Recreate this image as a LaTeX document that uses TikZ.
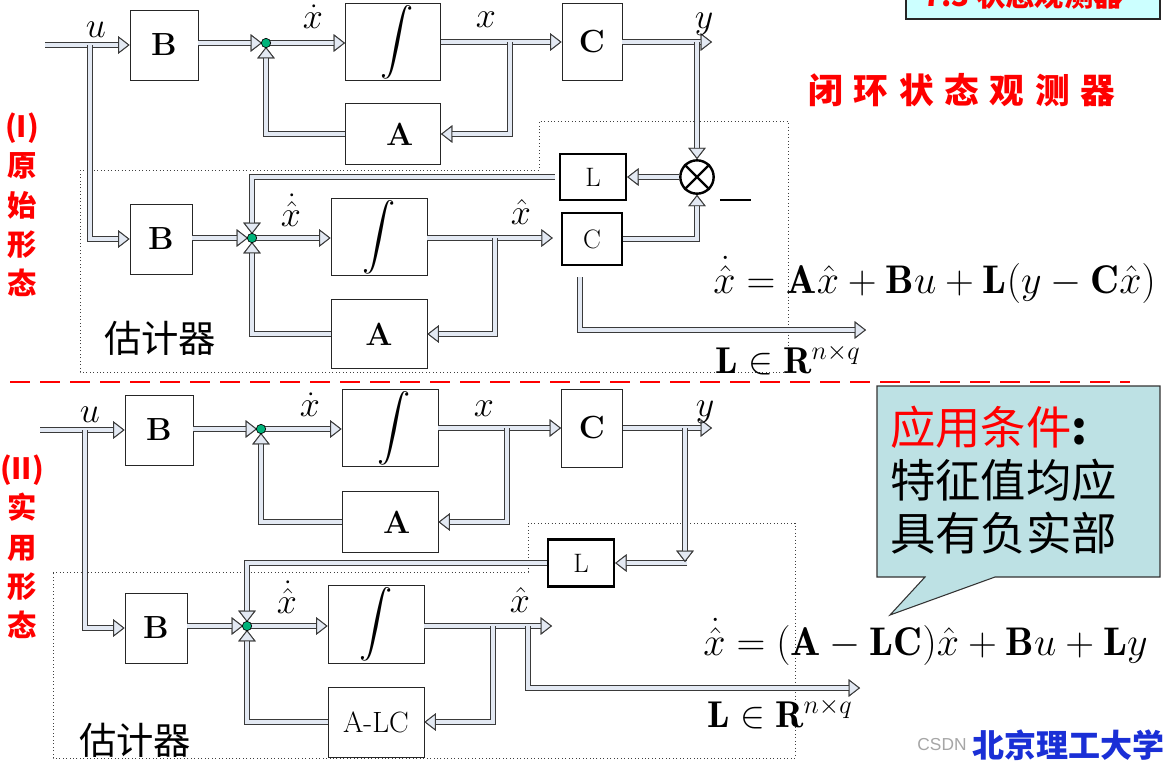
\RequirePackage{fix-cm}
\documentclass[tikz,border=0pt]{standalone}
\usepackage{amsmath}
\usepackage{exscale}
\usepackage{fontspec}
\newfontfamily\cjk{Noto Sans CJK SC}
\newfontfamily\arial{Liberation Sans}
\usetikzlibrary{arrows.meta}
\definecolor{pipefill}{HTML}{E3E9F3}
\definecolor{edgecol}{HTML}{3A3A3A}
\definecolor{jgreen}{HTML}{00B37A}
\definecolor{callfill}{HTML}{BDE1E4}
\definecolor{titlefill}{HTML}{CCFFFF}
\definecolor{logoblue}{HTML}{1A2FD6}
\newcommand{\myfs}[1]{\fontsize{#1}{#1}\selectfont}
\tikzset{
 pipe/.style={line width=3.2pt, draw=pipefill, preaction={draw=edgecol, line width=4.8pt}},
 arr/.style={-{Triangle[length=8.5pt,width=13pt,line width=0.7pt,color=edgecol,fill=pipefill]}},
 blk/.style={draw=black!85, line width=0.7pt, fill=white, inner sep=0pt},
 tblk/.style={draw=black, line width=1.8pt, fill=white, inner sep=0pt},
 sz/.style 2 args={minimum width=#1*0.75pt, minimum height=#2*0.75pt},
 bl/.style={font=\myfs{24}\bfseries},
 rl/.style={font=\myfs{20}},
 intg/.style={font=\myfs{27}},
 lab/.style={font=\myfs{27}, inner sep=0pt},
 eq/.style={font=\myfs{30}, inner sep=0pt},
 eqs/.style={font=\myfs{28}, inner sep=0pt},
 est/.style={draw=black!75, dotted, line width=0.6pt},
 dot/.style={circle, draw=black, line width=0.5pt, fill=jgreen, minimum size=7pt, inner sep=0pt},
 cjklab/.style={font=\cjk\myfs{28}, inner sep=0pt},
 sidelab/.style={font=\cjk\bfseries\fontsize{22}{29.5}\selectfont, text=red, align=center, inner sep=0pt},
}
\begin{document}
\begin{tikzpicture}[x=0.75pt,y=-0.75pt]
\useasboundingbox (0,0) rectangle (1164,765);
\clip (0,0) rectangle (1164,765);
\fill[white] (0,0) rectangle (1164,765);

% ---------- title box ----------
\draw[fill=titlefill, line width=1.5pt, draw=black!85] (906,-25) rectangle (1160,19);
\node[font=\cjk\bfseries\myfs{22}, text=red] (title) at (1023,-5) {7.3 状态观测器};

% ---------- (I) labels ----------
\node[sidelab] (side1) at (22,205) {(I)\\原\\始\\形\\态};
\node[font=\cjk\bfseries\myfs{26}, text=red, inner sep=0pt] (head1) at (962,90)
  {闭\hspace{8pt}环\hspace{8pt}状\hspace{8pt}态\hspace{8pt}观\hspace{8pt}测\hspace{8pt}器};

% estimator dotted frame (I)
\draw[est] (80,170) -- (539,170) -- (539,121) -- (788,121) -- (788,372) -- (80,372) -- cycle;

% ---------- nodes (I) ----------
\node[blk, sz={68}{70}, bl] (B1) at (164,45) {B};
\node[blk, sz={95}{77}, intg] (I1) at (393,42) {\hspace{6pt}$\displaystyle\int$};
\node[blk, sz={60}{77}, bl] (C1) at (592,42) {C};
\node[blk, sz={95}{61}, bl] (A1) at (393,134) {\hspace{10pt}A};
\node[tblk, sz={66}{46}, rl] (L1) at (593,177) {L};
\node[circle, draw=black, line width=1.8pt, fill=white, minimum size=25pt, inner sep=0pt] (X1) at (697,177) {};
\draw[line width=1.8pt] (X1.north west) -- (X1.south east) (X1.north east) -- (X1.south west);
\node[blk, sz={62}{70}, bl] (B2) at (161,239) {B};
\node[blk, sz={96}{77}, intg] (I2) at (379,237) {$\displaystyle\int$};
\node[tblk, sz={60}{52}, rl] (C2) at (592,239) {C};
\node[blk, sz={96}{69}, bl] (A2) at (379,334) {A};

\coordinate (U1) at (45,45);
\coordinate (J1) at (266,43);
\coordinate (T1) at (510,42);
\coordinate (Y1) at (712,42);
\coordinate (T2) at (697,42);
\coordinate (T3) at (90,45);
\coordinate (J2) at (252,238);
\coordinate (T4) at (495,238);
\coordinate (S1) at (580,277);
\coordinate (E1) at (866,330);

% ---------- pipes (I) ----------
\draw[pipe,arr] (U1) -- (B1.west);
\draw[pipe,arr,shorten >=3pt] (B1.east |- J1) -- (J1);
\draw[pipe,arr,shorten <=3pt] (J1) -- (I1.west |- J1);
\draw[pipe,arr] (I1.east) -- (C1.west);
\draw[pipe,arr] (T1) |- (A1.east);
\draw[pipe,arr,shorten >=3pt] (A1.west) -| (J1);
\draw[pipe,arr] (C1.east) -- (Y1);
\draw[pipe,arr] (T2) -- (X1.north);
\draw[pipe,arr] (X1.west) -- (L1.east);
\draw[pipe,arr,shorten >=3pt] ([xshift=-3pt]L1.west) -| (J2);
\draw[pipe,arr] (T3) |- (B2.west);
\draw[pipe,arr,shorten >=3pt] (B2.east |- J2) -- (J2);
\draw[pipe,arr,shorten <=3pt] (J2) -- (I2.west |- J2);
\draw[pipe,arr] (I2.east |- J2) -- ([xshift=-6pt]C2.west |- J2);
\draw[pipe,arr] (T4) |- (A2.east);
\draw[pipe,arr,shorten >=3pt] (A2.west) -| (J2);
\draw[pipe,arr] (C2.east) -| (X1.south);
\draw[pipe,arr] (S1) |- (E1);
\node[dot] (j1) at (J1) {};
\node[dot] (j2) at (J2) {};
\draw[line width=2.2pt] (720,200) -- (751,200);

% labels (I)
\node[lab] (lu1) at (96,30) {$u$};
\node[lab] (lxd1) at (313,17) {$\dot{x}$};
\node[lab] (lx1) at (486,20) {$x$};
\node[lab] (ly1) at (704,24) {$y$};
\node[lab] (lxhd1) at (291,210) {$\dot{\hat{x}}$};
\node[lab] (lxh1) at (521,212) {$\hat{x}$};
\node[cjklab] (est1) at (160,338) {估计器};
\node[eq, anchor=base west] (eq1) at (713,293) {$\dot{\hat{x}}=\mathbf{A}\hat{x}+\mathbf{B}u+\mathbf{L}(y-\mathbf{C}\hat{x})$};
\node[eqs, anchor=base west] (ls1) at (715,373) {$\mathbf{L}\in\mathbf{R}^{n\times q}$};

% ---------- red dashed separator ----------
\draw[red, line width=2.2pt, dash pattern=on 15pt off 7.5pt] (10,382) -- (1130,382);

% ---------- (II) ----------
\node[sidelab] (side2) at (22,547) {(II)\\实\\用\\形\\态};
\draw[est] (53,572) -- (528,572) -- (528,523) -- (795,523) -- (795,758) -- (53,758) -- cycle;

\node[blk, sz={68}{70}, bl] (B3) at (159,430) {B};
\node[blk, sz={96}{77}, intg] (I3) at (390,428) {\hspace{6pt}$\displaystyle\int$};
\node[blk, sz={61}{78}, bl] (C3) at (592,428) {C};
\node[blk, sz={96}{61}, bl] (A3) at (390,522) {\hspace{10pt}A};
\node[tblk, sz={66}{47}, rl] (L3) at (581,563) {L};
\node[blk, sz={62}{70}, bl] (B4) at (156,628) {B};
\node[blk, sz={96}{78}, intg] (I4) at (376,624) {$\displaystyle\int$};
\node[blk, sz={96}{70}, font=\myfs{22}] (ALC) at (376,722) {A-LC};

\coordinate (U2) at (40,430);
\coordinate (J3) at (261,429);
\coordinate (T5) at (507,428);
\coordinate (Y2) at (712,428);
\coordinate (T6) at (685,428);
\coordinate (D1) at (685,562);
\coordinate (D2) at (687,563);
\coordinate (T7) at (85,430);
\coordinate (J4) at (247,626);
\coordinate (X4) at (552,626);
\coordinate (T8) at (493,626);
\coordinate (T9) at (528,626);
\coordinate (E2) at (860,688);

\draw[pipe,arr] (U2) -- (B3.west);
\draw[pipe,arr,shorten >=3pt] (B3.east |- J3) -- (J3);
\draw[pipe,arr,shorten <=3pt] (J3) -- (I3.west |- J3);
\draw[pipe,arr] (I3.east) -- (C3.west);
\draw[pipe,arr] (T5) |- (A3.east);
\draw[pipe,arr,shorten >=3pt] (A3.west) -| (J3);
\draw[pipe,arr] (C3.east) -- (Y2);
\draw[pipe,arr] (D2) -- (L3.east);
\draw[pipe,arr] (T6) -- (D1);
\draw[pipe,arr,shorten >=3pt] (L3.west) -| (J4);
\draw[pipe,arr] (T7) |- (B4.west);
\draw[pipe,arr,shorten >=3pt] (B4.east |- J4) -- (J4);
\draw[pipe,arr,shorten <=3pt] (J4) -- (I4.west |- J4);
\draw[pipe,arr] (I4.east |- J4) -- (X4);
\draw[pipe,arr] (T8) |- (ALC.east);
\draw[pipe,arr,shorten >=3pt] (ALC.west) -| (J4);
\draw[pipe,arr] (T9) |- (E2);
\node[dot] (j3) at (J3) {};
\node[dot] (j4) at (J4) {};

% labels (II)
\node[lab] (lu2) at (90,415) {$u$};
\node[lab] (lxd2) at (310,405) {$\dot{x}$};
\node[lab] (lx2) at (484,409) {$x$};
\node[lab] (ly2) at (705,412) {$y$};
\node[lab] (lxhd2) at (287,597) {$\dot{\hat{x}}$};
\node[lab] (lxh2) at (520,600) {$\hat{x}$};
\node[cjklab] (est2) at (135,740) {估计器};
\node[eq, anchor=base west] (eq2) at (703,655) {$\dot{\hat{x}}=(\mathbf{A}-\mathbf{LC})\hat{x}+\mathbf{B}u+\mathbf{L}y$};
\node[eqs, anchor=base west] (ls2) at (707,727) {$\mathbf{L}\in\mathbf{R}^{n\times q}$};

% ---------- callout ----------
\draw[fill=callfill, draw=black!80, line width=0.8pt] (877,386) -- (1160,386) -- (1160,577) -- (995,577) -- (890,615) -- (925,577) -- (877,577) -- cycle;
\node[font=\cjk\myfs{34}, anchor=west, inner sep=0pt] (cl1) at (890,427) {\textcolor{red}{应用条件}\textbf{:}};
\node[font=\cjk\myfs{34}, anchor=west, inner sep=0pt] (cl2) at (890,480) {特征值均应};
\node[font=\cjk\myfs{34}, anchor=west, inner sep=0pt] (cl3) at (890,533) {具有负实部};

% ---------- footer ----------
\node[font=\arial\myfs{13}, text=black!35, inner sep=0pt] (csdn) at (942,745) {CSDN};
\node[font=\cjk\bfseries\myfs{24}, text=logoblue, inner sep=0pt] (logo) at (1068,745) {北京理工大学};
\end{tikzpicture}
\end{document}
